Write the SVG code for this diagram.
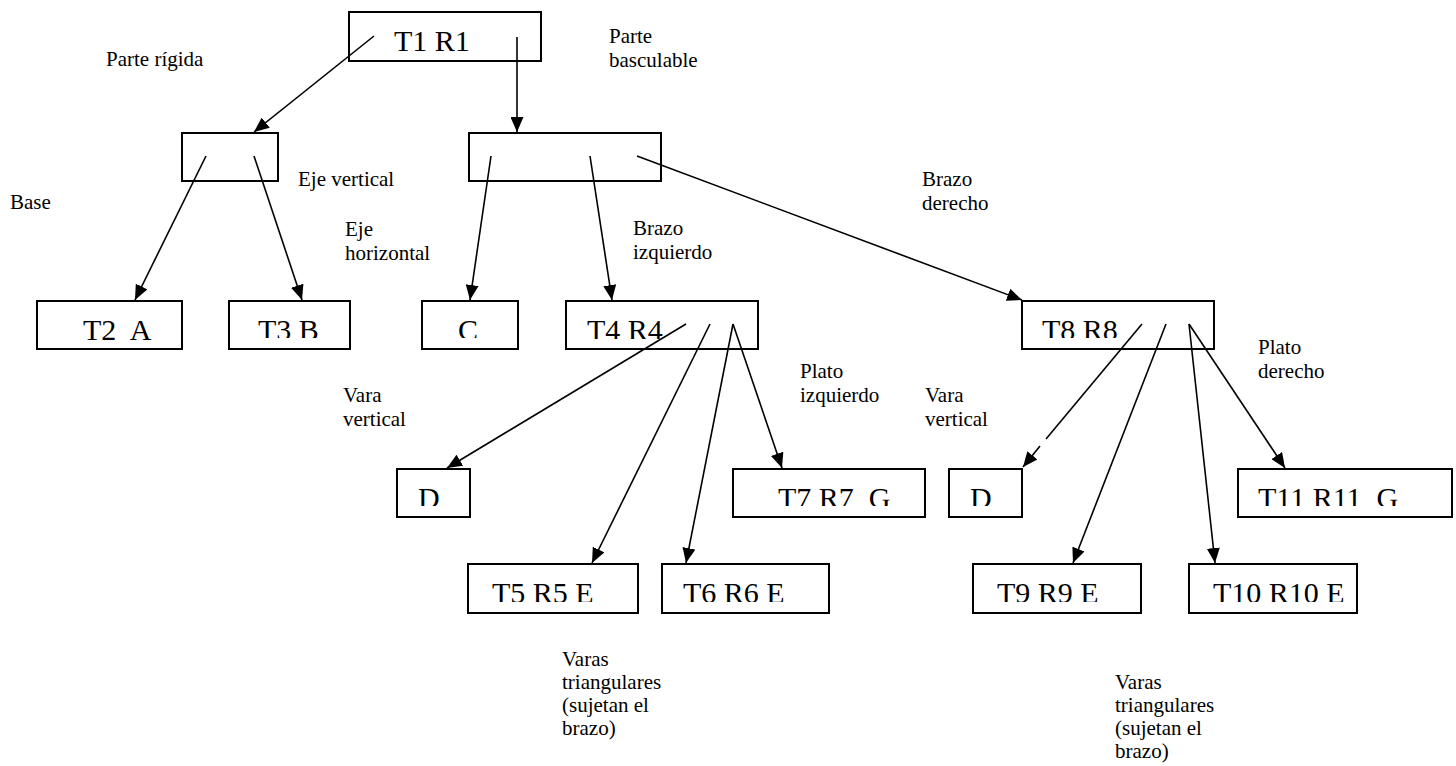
<svg xmlns="http://www.w3.org/2000/svg" width="1456" height="766" viewBox="0 0 1456 766">
<style>
.box{fill:#fff;stroke:#000;stroke-width:2}
.bt{font-size:30px;fill:#000;white-space:pre}
.lb{font-size:21px;fill:#000}
.cn line{stroke:#000;stroke-width:1.6;fill:none}
</style>
<defs>
<marker id="ah" markerUnits="userSpaceOnUse" markerWidth="15" markerHeight="13" refX="15" refY="6.5" orient="auto">
<path d="M0,0 L15,6.5 L0,13 z" fill="#000"/>
</marker>
<clipPath id="c2"><rect x="37" y="301" width="145" height="40"/></clipPath>
<clipPath id="c3"><rect x="229" y="301" width="121" height="37"/></clipPath>
<clipPath id="cC"><rect x="422" y="301" width="96" height="37"/></clipPath>
<clipPath id="c4"><rect x="566" y="301" width="192" height="38"/></clipPath>
<clipPath id="c8"><rect x="1022" y="301" width="192" height="37"/></clipPath>
<clipPath id="cD1"><rect x="397" y="469" width="73" height="37"/></clipPath>
<clipPath id="c7"><rect x="733" y="469" width="192" height="37"/></clipPath>
<clipPath id="cD2"><rect x="949" y="469" width="73" height="37"/></clipPath>
<clipPath id="c11"><rect x="1238" y="469" width="214" height="37"/></clipPath>
<clipPath id="c5"><rect x="468" y="564" width="170" height="38"/></clipPath>
<clipPath id="c6"><rect x="662" y="564" width="167" height="38"/></clipPath>
<clipPath id="c9"><rect x="973" y="564" width="168" height="38"/></clipPath>
<clipPath id="c10"><rect x="1189" y="564" width="168" height="38"/></clipPath>
</defs>
<rect width="1456" height="766" fill="#fff"/>

<g font-family="'Liberation Serif', 'Times New Roman', 'DejaVu Serif', serif">
<g id="n-t1"><rect class="box" x="349" y="12" width="192" height="49"/><text class="bt" x="394" y="51">T1 R1</text></g>
<g id="n-rigida"><rect class="box" x="182" y="133" width="96" height="48"/></g>
<g id="n-basculable"><rect class="box" x="469" y="133" width="192" height="48"/></g>
<g id="n-t2"><rect class="box" x="37" y="301" width="145" height="48"/><text class="bt" x="83" y="340" clip-path="url(#c2)">T2  A</text></g>
<g id="n-t3"><rect class="box" x="229" y="301" width="121" height="48"/><text class="bt" x="258" y="340" clip-path="url(#c3)">T3 B</text></g>
<g id="n-c"><rect class="box" x="422" y="301" width="96" height="48"/><text class="bt" x="458" y="340" clip-path="url(#cC)">C</text></g>
<g id="n-t4"><rect class="box" x="566" y="301" width="192" height="48"/><text class="bt" x="587" y="340" clip-path="url(#c4)">T4 R4</text></g>
<g id="n-t8"><rect class="box" x="1022" y="301" width="192" height="48"/><text class="bt" x="1042" y="340" clip-path="url(#c8)">T8 R8</text></g>
<g id="n-d1"><rect class="box" x="397" y="469" width="73" height="48"/><text class="bt" x="418" y="508" clip-path="url(#cD1)">D</text></g>
<g id="n-t7"><rect class="box" x="733" y="469" width="192" height="48"/><text class="bt" x="778" y="508" clip-path="url(#c7)">T7 R7  G</text></g>
<g id="n-d2"><rect class="box" x="949" y="469" width="73" height="48"/><text class="bt" x="970" y="508" clip-path="url(#cD2)">D</text></g>
<g id="n-t11"><rect class="box" x="1238" y="469" width="214" height="48"/><text class="bt" x="1258" y="508" clip-path="url(#c11)">T11 R11  G</text></g>
<g id="n-t5"><rect class="box" x="468" y="564" width="170" height="49"/><text class="bt" x="492" y="603" clip-path="url(#c5)">T5 R5 E</text></g>
<g id="n-t6"><rect class="box" x="662" y="564" width="167" height="49"/><text class="bt" x="683" y="603" clip-path="url(#c6)">T6 R6 E</text></g>
<g id="n-t9"><rect class="box" x="973" y="564" width="168" height="49"/><text class="bt" x="997" y="603" clip-path="url(#c9)">T9 R9 E</text></g>
<g id="n-t10"><rect class="box" x="1189" y="564" width="168" height="49"/><text class="bt" x="1213" y="603" clip-path="url(#c10)">T10 R10 E</text></g>

<g id="connectors" class="cn">
<line x1="374" y1="36" x2="254" y2="132" marker-end="url(#ah)"/>
<line x1="517" y1="37" x2="517" y2="132" marker-end="url(#ah)"/>
<line x1="206" y1="156" x2="135" y2="300" marker-end="url(#ah)"/>
<line x1="254" y1="156" x2="302" y2="300" marker-end="url(#ah)"/>
<line x1="491" y1="156" x2="470" y2="300" marker-end="url(#ah)"/>
<line x1="590" y1="156" x2="612" y2="300" marker-end="url(#ah)"/>
<line x1="637" y1="156" x2="1022" y2="300" marker-end="url(#ah)"/>
<line x1="686" y1="324" x2="447" y2="468" marker-end="url(#ah)"/>
<line x1="710" y1="324" x2="592" y2="563" marker-end="url(#ah)"/>
<line x1="733" y1="324" x2="686" y2="563" marker-end="url(#ah)"/>
<line x1="733" y1="324" x2="782" y2="468" marker-end="url(#ah)"/>
<line x1="1142" y1="324" x2="1046" y2="439"/>
<line x1="1040" y1="446" x2="1023" y2="467" marker-end="url(#ah)"/>
<line x1="1166" y1="324" x2="1073" y2="563" marker-end="url(#ah)"/>
<line x1="1189" y1="324" x2="1215" y2="563" marker-end="url(#ah)"/>
<line x1="1189" y1="324" x2="1285" y2="468" marker-end="url(#ah)"/>
</g>

<g id="labels">
<text class="lb" x="106" y="66">Parte rígida</text>
<text class="lb" x="609" y="43">Parte</text>
<text class="lb" x="609" y="67">basculable</text>
<text class="lb" x="298" y="186">Eje vertical</text>
<text class="lb" x="10" y="209">Base</text>
<text class="lb" x="345" y="236">Eje</text>
<text class="lb" x="345" y="260">horizontal</text>
<text class="lb" x="633" y="235">Brazo</text>
<text class="lb" x="633" y="259">izquierdo</text>
<text class="lb" x="922" y="186">Brazo</text>
<text class="lb" x="922" y="210">derecho</text>
<text class="lb" x="343" y="402">Vara</text>
<text class="lb" x="343" y="426">vertical</text>
<text class="lb" x="800" y="378">Plato</text>
<text class="lb" x="800" y="402">izquierdo</text>
<text class="lb" x="925" y="402">Vara</text>
<text class="lb" x="925" y="426">vertical</text>
<text class="lb" x="1258" y="354">Plato</text>
<text class="lb" x="1258" y="378">derecho</text>
<text class="lb" x="562" y="666">Varas</text>
<text class="lb" x="562" y="689">triangulares</text>
<text class="lb" x="562" y="712">(sujetan el</text>
<text class="lb" x="562" y="735">brazo)</text>
<text class="lb" x="1115" y="689">Varas</text>
<text class="lb" x="1115" y="712">triangulares</text>
<text class="lb" x="1115" y="735">(sujetan el</text>
<text class="lb" x="1115" y="758">brazo)</text>
</g>
</g>
</svg>
